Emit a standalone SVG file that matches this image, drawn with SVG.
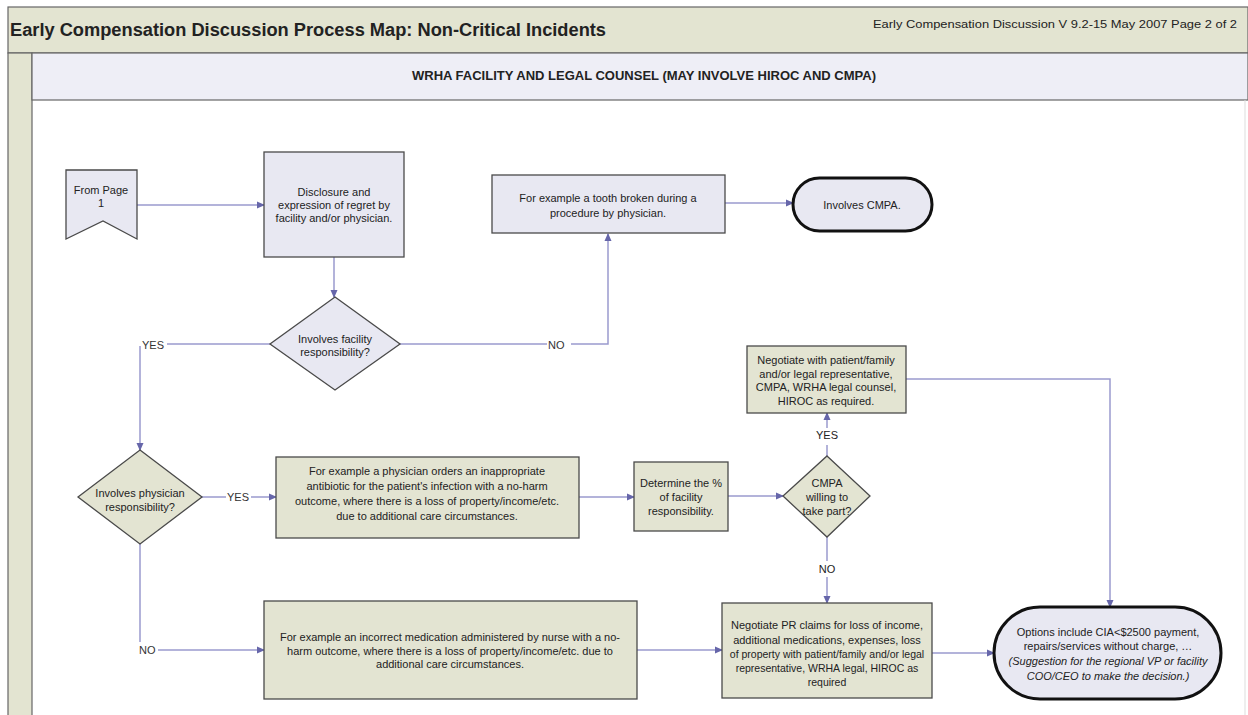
<svg xmlns="http://www.w3.org/2000/svg" width="1248" height="715" viewBox="0 0 1248 715">
<defs>
<marker id="arr" markerWidth="8" markerHeight="8" refX="7" refY="4" orient="auto" markerUnits="userSpaceOnUse">
<path d="M0,0.5 L8,4 L0,7.5 Z" fill="#6666aa"/>
</marker>
<style>
text{font-family:"Liberation Sans",Arial,sans-serif;fill:#222;}
.t{font-size:11px;text-anchor:middle;}
.lbl{font-size:11px;fill:#333;}
.lav{fill:#e8e8f2;stroke:#4a4a4a;stroke-width:1.3;}
.kha{fill:#e3e4d2;stroke:#4a4a4a;stroke-width:1.3;}
.term{fill:#e8e8f2;stroke:#111;stroke-width:3;}
.c{fill:none;stroke:#9a9ace;stroke-width:1.5;}
.ca{fill:none;stroke:#9a9ace;stroke-width:1.5;marker-end:url(#arr);}
</style>
</defs>
<rect x="0" y="0" width="1248" height="715" fill="#ffffff"/>
<!-- frame -->
<g id="frame">
<rect x="8" y="7" width="1240" height="46" fill="#e3e4d1" stroke="#666" stroke-width="1.2"/>
<text x="10" y="36" style="font-size:18px;font-weight:bold;" textLength="596" lengthAdjust="spacingAndGlyphs">Early Compensation Discussion Process Map: Non-Critical Incidents</text>
<text x="873" y="28" style="font-size:11px;" textLength="364" lengthAdjust="spacingAndGlyphs">Early Compensation Discussion V 9.2-15 May 2007 Page 2 of 2</text>
<rect x="8" y="53" width="24" height="670" fill="#e3e4d1" stroke="#666" stroke-width="1.2"/>
<rect x="32" y="53" width="1216" height="47" fill="#eeeef6" stroke="#666" stroke-width="1.2"/>
<text x="644" y="80" style="font-size:13px;font-weight:bold;text-anchor:middle;">WRHA FACILITY AND LEGAL COUNSEL (MAY INVOLVE HIROC AND CMPA)</text>
<line x1="1245" y1="100" x2="1245" y2="715" stroke="#ddd" stroke-width="1"/>
</g>
<!-- connectors -->
<g id="connectors">
<line class="ca" x1="137" y1="205" x2="264" y2="205"/>
<line class="ca" x1="334" y1="257" x2="334" y2="297"/>
<polyline class="c" points="270,344 167,344"/>
<polyline class="ca" points="140,346 140,450"/>
<text class="lbl" x="142" y="349">YES</text>
<polyline class="c" points="400,344 547,344"/>
<polyline class="ca" points="571,344 608,344 608,234"/>
<text class="lbl" x="548" y="349">NO</text>
<line class="ca" x1="725" y1="203" x2="793" y2="203"/>
<line class="c" x1="202" y1="497" x2="226" y2="497"/>
<line class="ca" x1="251" y1="497" x2="276" y2="497"/>
<text class="lbl" x="227" y="501">YES</text>
<line class="ca" x1="579" y1="497" x2="634" y2="497"/>
<line class="ca" x1="728" y1="496" x2="783" y2="496"/>
<line class="c" x1="827" y1="456" x2="827" y2="445"/>
<line class="ca" x1="827" y1="428" x2="827" y2="413"/>
<text class="t" x="827" y="439">YES</text>
<line class="c" x1="827" y1="537" x2="827" y2="561"/>
<line class="ca" x1="827" y1="577" x2="827" y2="603"/>
<text class="t" x="827" y="573">NO</text>
<polyline class="ca" points="906,379 1110,379 1110,607"/>
<line class="c" x1="140" y1="544" x2="140" y2="642"/>
<text class="lbl" x="139" y="654">NO</text>
<line class="ca" x1="158" y1="650" x2="264" y2="650"/>
<line class="ca" x1="637" y1="650" x2="722" y2="650"/>
<line class="ca" x1="932" y1="653" x2="994" y2="653"/>
</g>
<!-- nodes -->
<g id="from-page">
<path class="lav" d="M66,170 H137 V239 L103,221 L66,239 Z"/>
<text class="t" x="101" y="194">From Page</text>
<text class="t" x="101" y="207">1</text>
</g>
<g id="disclosure">
<rect class="lav" x="264" y="152" width="140" height="105"/>
<text class="t" x="334" y="196">Disclosure and</text>
<text class="t" x="334" y="209">expression of regret by</text>
<text class="t" x="334" y="222">facility and/or physician.</text>
</g>
<g id="facility-decision">
<path class="lav" d="M335,297 L400,344 L335,390 L270,344 Z"/>
<text class="t" x="335" y="343">Involves facility</text>
<text class="t" x="335" y="356">responsibility?</text>
</g>
<g id="tooth">
<rect class="lav" x="492" y="175" width="233" height="58"/>
<text class="t" x="608" y="202">For example a tooth broken during a</text>
<text class="t" x="608" y="217">procedure by physician.</text>
</g>
<g id="involves-cmpa">
<rect class="term" x="793" y="178" width="139" height="53" rx="26.5"/>
<text class="t" x="862" y="209">Involves CMPA.</text>
</g>
<g id="negotiate-cmpa">
<rect class="kha" x="747" y="346" width="159" height="67"/>
<text class="t" x="826" y="364">Negotiate with patient/family</text>
<text class="t" x="826" y="378">and/or legal representative,</text>
<text class="t" x="826" y="391">CMPA, WRHA legal counsel,</text>
<text class="t" x="826" y="405">HIROC as required.</text>
</g>
<g id="physician-decision">
<path class="kha" d="M140,450 L202,497 L140,544 L78,497 Z"/>
<text class="t" x="140" y="497">Involves physician</text>
<text class="t" x="140" y="511">responsibility?</text>
</g>
<g id="physician-example">
<rect class="kha" x="276" y="457" width="303" height="81"/>
<text class="t" x="427" y="475">For example a physician orders an inappropriate</text>
<text class="t" x="427" y="490">antibiotic for the patient's infection with a no-harm</text>
<text class="t" x="427" y="505">outcome, where there is a loss of property/income/etc.</text>
<text class="t" x="427" y="520">due to additional care circumstances.</text>
</g>
<g id="determine">
<rect class="kha" x="634" y="462" width="94" height="69"/>
<text class="t" x="681" y="487">Determine the %</text>
<text class="t" x="681" y="501">of facility</text>
<text class="t" x="681" y="515">responsibility.</text>
</g>
<g id="cmpa-decision">
<path class="kha" d="M827,456 L870,496 L827,537 L783,496 Z"/>
<text class="t" x="827" y="487">CMPA</text>
<text class="t" x="827" y="501">willing to</text>
<text class="t" x="827" y="515">take part?</text>
</g>
<g id="nurse-example">
<rect class="kha" x="264" y="601" width="373" height="98"/>
<text class="t" x="450" y="641">For example an incorrect medication administered by nurse with a no-</text>
<text class="t" x="450" y="655">harm outcome, where there is a loss of property/income/etc. due to</text>
<text class="t" x="450" y="668">additional care circumstances.</text>
</g>
<g id="negotiate-pr">
<rect class="kha" x="722" y="603" width="210" height="95"/>
<text class="t" x="827" y="629">Negotiate PR claims for loss of income,</text>
<text class="t" x="827" y="644">additional medications, expenses, loss</text>
<text class="t" x="827" y="658" style="font-size:10.5px;">of property with patient/family and/or legal</text>
<text class="t" x="827" y="672" style="font-size:10.5px;">representative, WRHA legal, HIROC as</text>
<text class="t" x="827" y="686" style="font-size:10.5px;">required</text>
</g>
<g id="options">
<rect class="term" x="994" y="607" width="227" height="92" rx="46"/>
<text class="t" x="1108" y="636">Options include CIA&lt;$2500 payment,</text>
<text class="t" x="1108" y="650">repairs/services without charge, …</text>
<text class="t" x="1108" y="665" style="font-style:italic;">(Suggestion for the regional VP or facility</text>
<text class="t" x="1108" y="680" style="font-style:italic;">COO/CEO to make the decision.)</text>
</g>
</svg>
